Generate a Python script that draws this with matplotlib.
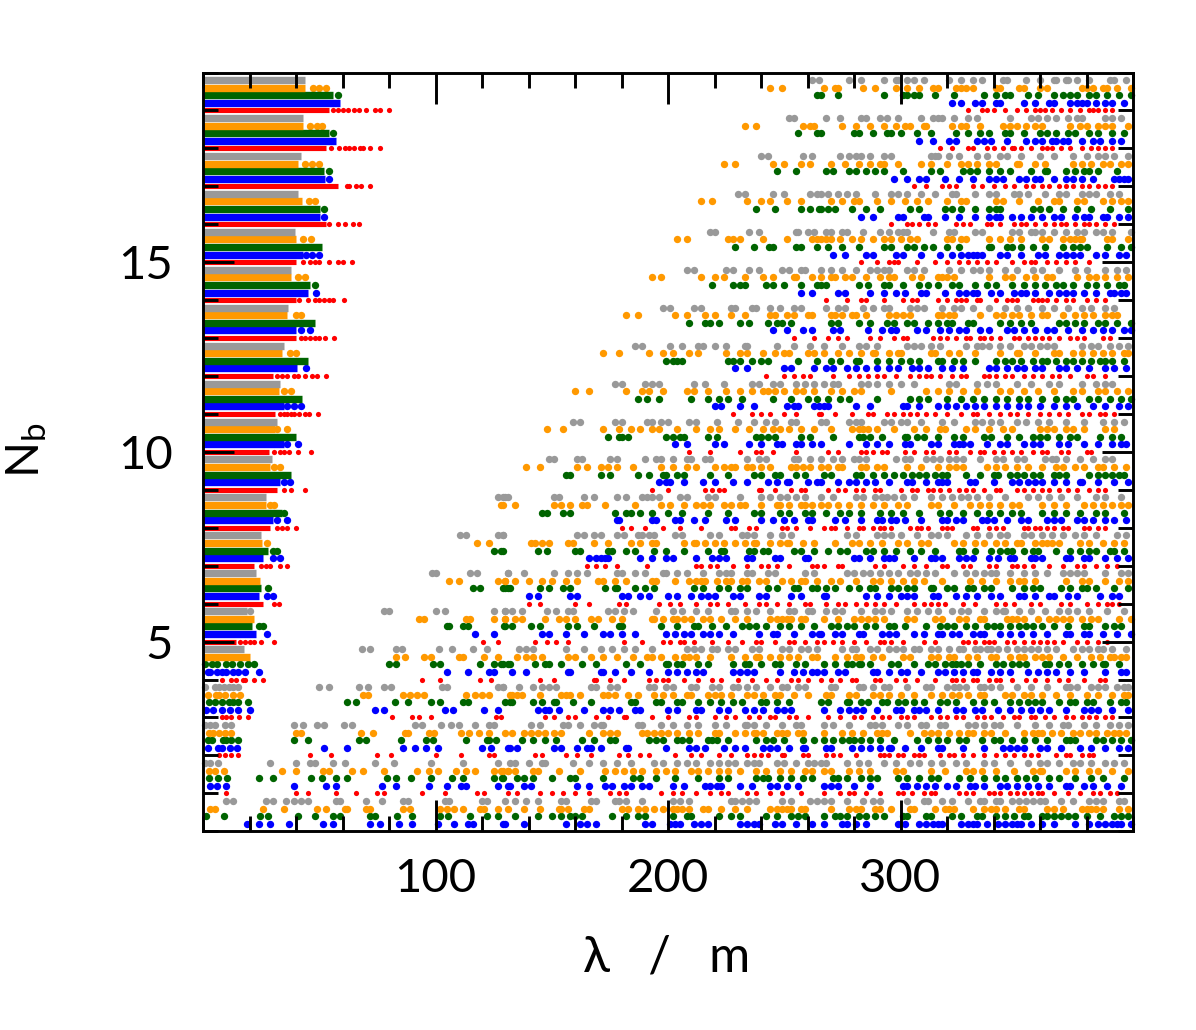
import matplotlib
matplotlib.use("Agg")
import matplotlib.pyplot as plt
from matplotlib.ticker import MultipleLocator

plt.rcParams['font.family'] = ['Lato', 'DejaVu Sans']
plt.rcParams['mathtext.fontset'] = 'custom'
plt.rcParams['mathtext.rm'] = 'Lato'

# Nb level of each row, bottom to top
blue_nb = [0.2, 1.2, 2.2, 3.2, 4.2, 5.2, 6.2, 7.2, 8.2, 9.2, 10.2, 11.2, 12.2, 13.2, 14.2, 15.2, 16.2, 17.2, 18.2, 19.2]
green_nb = [0.4, 1.4, 2.4, 3.4, 4.4, 5.4, 6.4, 7.4, 8.4, 9.4, 10.4, 11.4, 12.4, 13.4, 14.4, 15.4, 16.4, 17.4, 18.4, 19.4]
orange_nb = [0.6, 1.6, 2.6, 3.6, 4.6, 5.6, 6.6, 7.6, 8.6, 9.6, 10.6, 11.6, 12.6, 13.6, 14.6, 15.6, 16.6, 17.6, 18.6, 19.6]
gray_nb = [0.8, 1.8, 2.8, 3.8, 4.8, 5.8, 6.8, 7.8, 8.8, 9.8, 10.8, 11.8, 12.8, 13.8, 14.8, 15.8, 16.8, 17.8, 18.8, 19.8]
red_nb = [1.0, 2.0, 3.0, 4.0, 5.0, 6.0, 7.0, 8.0, 9.0, 10.0, 11.0, 12.0, 13.0, 14.0, 15.0, 16.0, 17.0, 18.0, 19.0]

# short wavelengths are packed so tightly that they merge: contiguous range 0..end per row
blue_ends = [0, 0, 0, 0, 0, 23, 24, 26, 30, 33, 35, 35, 40.5, 40, 45, 43, 50.5, 52.5, 57, 59]
green_ends = [0, 0, 0, 0, 0, 21, 25, 28, 34, 38, 40, 42.5, 45, 48, 46, 51, 50.5, 52, 54, 56]
orange_ends = [0, 0, 0, 0, 20, 22, 24.5, 25.5, 27, 29, 31, 32.5, 34, 36, 38, 40, 42.5, 41, 43, 44]
gray_ends = [0, 0, 0, 0, 17.5, 19, 23, 25, 27, 29.5, 32, 33, 35, 36.5, 38, 39.7, 41, 42, 43, 44]
red_ends = [0, 0, 0, 0, 14, 26, 22, 29, 32, 28.5, 31, 30, 40, 40, 40, 53, 58, 53, 54]

blue_lam = [
    [19,24,29,37,51.5,56,72,76,84.5,90,101,108,114,116,129,130,138,156,162,165,169,190,193,201,203,205,211,214,217,231,234,237,239,246,249,255,262,267,275,277,281,285,299,302,308,311,314,316,318,326,329,331,333,337,342,345,348,350,352,356,361,366,375,381,385,388,391,393,395,399],
    [3,6,10,39,53,57,77,83,97,105,111,113,127,132,131,138,141,161,166,173,176,181,184,189,192,202,207,216,218,221,223,231,236,244,247,251,256,267,270,273,280,287,301,303,307,311,315,320,324,330,332,336,343,346,350,355,359,364,371,373,379,383,389,395],
    [2,6.5,8,11.5,14.5,52,62,86,91,96,101,120,124,131,132,135,151,154,161,165,167,171,182,183,199,209,212,216,224,229,233,241,244,247,252,258,259,268,270,279,283,287,291,295,296,302,309,316,318,327,336,344,347,350,353,360,363,369,377,382,388,394,398],
    [1.5,4.5,8,11.5,15,20,74,78,104,107.5,121,127,144,147,149,153,164,172,175,179,186,188,200,204,212,214,222,226,233,237,241,247,250,253,267,274,278,281,284,290,298,300,306,308,311,316,324,327,332,335,342,347,352,356,360,364,371,379,382,385,391,398],
    [2,3,6,8,10,13,15,18,24,105,114,123,125,133,139,157,158,171,172,177,184,192,200,204,208,212,215,228,231,234,237,248,254,258,262,264,267,273,276,288,290,295,300,303,309,316,319,323,327,331,333,339,343,347,355,359,363,367,373,379,388,395,397],
    [27.5,117,125,146,149,156,164,172,175,180,186,199,203,207,210,215,218,222,228,239,245,247,254,262,265,266,272,275,282,284,292,295,298,306,310,316,318,322,325,331,334,336,343,347,352,357,363,371,373,379,381,387,393,399],
    [27.5,30,140,144,158,161,180,183,188,192,200,204,210,214,217,220,228,231,239,242,253,257,267,268,285,290,295,300,303,306,314,316,324,328,333,339,343,351,353,358,364,366,372,376,386,391,394],
    [30,33,166,169,171,173,174,188,193,199,202,212,219,222,225,234,236,246,248,259,260,280,282,287,293,295,297,306,313,315,318,325,328,331,338,342,347,349,356,358,361,371,373,379,381,388,393,398],
    [32,36,178,179,193,195,203,205,211,216,225,229,240,245,250,254,260,262,272,276,283,290,292,296,298,302,309,318,320,324,327,335,337,340,346,352,355,363,366,369,376,379,383,388,392,397],
    [35,37.5,196,199,201,207,215,220,228,234,243,247,251,252,260,264,266,273,278,281,285,289,295,303,305,311,316,318,320,330,332,340,348,351,355,358,361,366,371,377,378,385,392,398],
    [36,41,203,208,220,224,235,240,247,249,255,257,262,266,278,285,290,295,302,304,313,316,323,325,327,330,337,343,346,353,357,360,368,372,379,385,391,395,397],
    [36,39,42,220,223,231,237,251,254,256,263,265,267,269,281,287,301,303,308,316,320,324,328,332,336,341,346,351,355,360,366,371,376,383,388,394,398],
    [44.5,229,234,250,253,263,268,271,277,281,285,290,295,299,305,308,312,318,322,327,338,341,346,350,353,358,361,368,371,376,381,388,392,397],
    [42,46,245,251,258,262,271,274,286,292,296,298,307,311,317,321,325,328,334,338,346,349,353,358,363,366,372,378,383,387,391,396,399],
    [48.5,257,262,273,276,287,293,298,302,309,311,319,325,328,331,333,339,343,349,352,354,358,364,368,371,374,379,384,390,392,395,397],
    [44.5,47,50,271,276,285,288,298,301,309,317,322,326,329,331,333,335,343,346,352,359,362,368,371,374,377,384,388,394,397],
    [52,283,288,299,301,310,312,319,325,332,338,341,343,348,352,356,361,366,369,375,379,381,387,389,394,398],
    [54,297,303,308,311,319,325,331,338,341,344,351,354,358,360,366,371,374,378,383,392,394,396,398],
    [308,314,321,324,333,336,339,346,354,358,361,365,367,370,372,378,383,386,391,395],
    [322,326,332,335,341,343,353,358,364,366,373,376,378,380,384,388,391,396],
]

green_lam = [
    [1.5,9,24.5,28,41,48,56,59,72,74,83.5,90,102,105.5,115,122,127,134,144,150,154,158,160,163,176,182,187,190,202,208,210,222,227,231,242,247,253,256,259,267,272,274,277,282,285,289,293,301,303,311,313,322,326,333,335,341,345,349,353,355,361,363,366,369,372,375,380,386,392,395,398],
    [2.5,6.5,10.5,24,30,46.5,51,57,62,79,83,89.5,98,107,112,125,128.5,129,135,138,142,150,158,160,172,185,188,195,203,213,222,226,238,241,243,248,253,258,262,271,273,277,283,287,290,299,303,308,313,316,325,330,336,341,345,350,354,358,364,368,375,382,387,396],
    [2,4,8.5,10,12,15,39,45,67,70,85,96,99,113,122,123,126,137,142,147,152,163,168,175,177,192,195,198,204,206,209,217,219,221,226,238,242,245,250,258,263,267,271,275,278,280,283,287,291,297,307,312,316,320,325,328,335,340,343,348,353,358,363,371,373,375,384,387,391,395,399],
    [2.5,5,8,11,13,15,19.5,62,66,82.5,88,98,102,112,114,130,132,133,142,146,151,152,159,167,184,186,195,197,204,206,213,218,223,228,232,240,242,247,252,266,269,277,278,283,286,292,294,299,302,306,310,317,320,324,331,336,340,347,351,355,358,361,368,373,375,380,383,390,395,397],
    [1,4,6,10,12.5,16,19.5,22,80,83,99,102,119,125,128,131,129,132,143,147,149,154,163,169,182,188,199,200,204,206,213,217,228,233,235,240,246,248,255,259,267,272,277,279,282,283,287,296,299,306,312,315,319,322,324,326,329,334,341,344,348,351,354,362,364,368,372,378,383,387,388,394],
    [24,26,105,106,112,114,129.5,130,133,141,145,157,161,168,179,180,197,204,211,213,219,225,232,235,238,242,248,252,257,263,270,273,277,280,285,289,295,297,302,311,317,320,323,328,332,337,340,343,347,351,354,357,361,366,372,379,381,388,392,395],
    [28,116,119,129,131,130,132,145,149,155,158,173,177,178,186,190,194,211,215,222,226,231,234,243,247,254,256,262,264,268,272,278,282,287,289,296,299,303,306,313,314,320,323,329,331,336,339,348,353,357,360,369,373,378,380,384,392,398],
    [30,32,125,128,129,144,148,160,162,174,176,182,186,194,199,207,217,223,224,235,237,241,243,254,257,263,269,274,277,285,288,293,298,304,309,315,325,327,332,339,343,346,348,353,357,359,367,373,377,381,384,390,392,396],
    [35,146,148,155,158,177,182,184,188,193,200,206,217,226,237,240,248,252,259,262,268,274,278,283,291,296,301,308,317,321,327,333,338,343,348,352,361,366,371,377,384,388,396],
    [156,158,171,175,187,192,198,199,204,207,218,226,237,240,246,248,255,259,267,270,281,283,288,293,297,301,305,308,311,315,318,320,328,334,340,342,347,350,353,357,360,366,368,371,381,385,388,391,394,396],
    [174,179,180,183,199,202,205,207,217,221,238,240,243,246,257,261,271,282,284,287,292,302,303,307,310,316,323,327,336,339,346,351,357,360,363,368,373,376,386,391,395],
    [187,191,196,210,217,222,226,232,245,253,260,264,269,274,278,290,304,308,312,320,326,331,336,341,346,351,355,361,367,371,374,381,385,390,395,399],
    [199,202,204,206,226,228,231,236,240,243,256,264,270,274,281,282,290,295,300,304,308,316,318,323,327,332,341,345,348,352,357,361,363,367,371,374,378,382,386,388,391,396],
    [209,216,218,222,231,235,243,247,249,253,270,273,282,287,294,297,303,306,312,316,320,322,329,331,343,347,352,356,368,371,375,379,385,388,393,399],
    [48,219,228,231,233,242,245,250,257,264,266,268,282,286,293,295,301,308,312,316,322,325,332,337,341,348,353,358,362,367,370,374,380,384,389,394,396],
    [229,237,243.5,245,255,257,264,269,275,282,293,296,303,306,310,314,320,325,338,339,346,348,352,357,362,370,374,377,380,389,395,399],
    [52,238,246,257,261,265,266,269,272,279,285,291,304,308,319,322,326,332,338,341,343,357,360,364,370,376,382,390,398],
    [54,247,255,268,271,278,281,285,289,293,301,313,317,327,330,333,338,343,347,356,362,363,371,375,379,381,385,393],
    [56,256,264,266,280,282,288,294,296,300,307,313,324,329,334,338,345,347,353,360,363,367,372,375,381,385,391,396],
    [58,264,266,273,293,301,303,306,308,315,323,336,341,345,347,355,359,366,370,373,376,381,384,389,394,399],
]

orange_lam = [
    [3,5,26,35,49,53,61,62,70,72,86,89,102,105,108,112,119,121,127,131,138,145,153,154,157,164,166,180,183,187,190,194,198,202,204,206,209,215,217,223,229,234,244,247,249,251,253,257,259,270,278,281,283,289,291,296,304,306,315,319,321,323,331,336,339,341,345,351,353,363,366,370,378,380,382,384,387,394,398],
    [2.5,5,9,34,40,51.5,54,64,69,78,92,97,101,109,113,117,125,128,131,129,131,134,142,144,153,162,173,177,181,185,189,195,199,203,210,213,217,222,226,231,238,242,248,253,259,262,267,270,278,282,287,298,301,313,319,328,331,335,341,349,357,360,361,371,375,381,385,391,398],
    [2.5,4.5,7,9.5,12,40,42,68,73,87,88,97,99.5,111,114.5,118.5,123,130,133,138,141,144,147,151,154,166,172,175,178,189,191,194,197,200,204,209,213,220,222,229,233,237,238,241,247,249,251,256,258,267,275,279,284,290,292,294,304,310,313,316,321,325,329,331,336,339,345,353,357,359,361,365,369,374,377,381,384,389,392,394,397],
    [2,5.5,7,9.5,13,16,69,71,86,89,92,95,113,117,120,123,132,133,135,137,145,154,156,158,162,172,174,177,183,187,194,198,202,208,210,217,220,223,227,234,237,241,246,248,254,260,268,270,278,281,288,291,295,300,306,313,318,322,325,329,334,336,345,348,353,356,361,367,373,380,385,391,396,398],
    [83,87,95,98,110,112,121,127,135,139,142,146,157,160,167,172,178,185,191,193,197,203,207,209,212,218,227,233,238,239,244,248,252,256,262,264,272,277,281,283,288,292,301,304,313,316,321,323,329,333,339,341,347,351,353,358,361,364,370,376,382,386,390,392,395,397],
    [93,95,113,115,125,130,130,134,137,147,153,156,160,167,170,176,180,193,194,198,202,204,207,210,215,218,223,229,234,244,247,249,251,253,257,259,267,273,280,283,286,289,293,303,306,315,318,325,328,334,336,346,348,350,353,359,364,367,370,373,378,382,385,394,399],
    [106,110,127,130,130,134,140,146,150,156,161,170,172,177,182,193,195,203,209,212,214,216,221,225,227,232,234,239,242,249,253,257,259,264,270,274,281,288,291,296,301,306,310,318,330,335,341,347,351,353,358,371,378,381,388,394,398],
    [27.5,118,123,141,143,146,149,157,159,168,174,184,188,193,195,207,211,212,216,220,224,229,233,237,238,244,248,251,252,258,263,272,279,282,287,292,299,303,309,312,323,327,332,336,341,345,350,352,358,361,363,365,368,377,381,387,392,396],
    [29,30.5,128,129,134,151,154,158,163,165,173,186,197,201,207,212,215,218,224,227,231,233,240,247,248,252,257,259,262,266,269,273,278,283,288,293,299,303,313,316,323,330,334,338,343,348,351,361,366,371,379,383,387,391,395,398],
    [30.5,33,139,145,161,165,171,174,178,185,197,202,208,212,220,224,227,229,234,236,240,244,253,255,258,261,266,269,273,275,283,285,290,293,303,309,316,321,324,327,337,341,345,350,355,361,367,370,375,379,385,387,392,397],
    [32,36,148,155,172,179,184,188,193,196,204,212,218,222,229,235,241,245,248,252,257,263,270,279,282,284,286,290,297,306,311,317,319,328,332,338,344,348,360,363,366,371,374,379,388,392],
    [35,38,160,166,182,189,192,198,208,211,217,225,231,236,241,243,246,250,255,258,263,270,275,280,283,296,311,316,321,327,333,343,347,353,359,366,374,378,385,388,393,398],
    [37.5,40,172,179,192,198,202,209,213,225,231,234,241,246,250,252,260,263,267,273,278,283,288,289,295,299,300,313,315,321,325,332,343,350,351,358,366,368,374,378,383,387,391,396,398],
    [40,42,182,187,203,208,216,220,227,233,244,246,251,254,260,262,270,272,275,279,281,285,295,298,301,304,316,318,321,323,334,341,344,348,351,356,361,363,370,375,379,383,388,391,393],
    [41,44,193,197,214,220,224,233,241,245,254,255,262,266,270,272,276,279,285,291,295,297,305,309,316,318,320,323,338,345,348,354,358,363,365,376,381,384,388,393,398],
    [43,46.5,204,208,226,228,231,241,251,262,264,266,268,270,274,279,283,288,293,296,300,304,307,320,322,326,328,338,343,347,352,361,364,370,373,375,377,378,389,391,398],
    [45.5,48,214,219,234,240,244,251,257,270,275,280,282,290,296,302,307,312,320,326,328,341,344,351,359,366,368,376,379,387,391,395,398],
    [44,47,50,224,229,245,250,257,261,270,276,282,287,291,293,299,309,313,320,326,329,333,338,341,350,351,358,362,374,378,382,387,390,395,398],
    [46,49,51,233,238,258,261,263,275,281,287,293,298,302,304,310,311,322,326,328,334,344,347,350,354,358,361,373,377,380,385,388,391,398],
    [47.5,50,53,244,249,267,272,273,284,289,298,303,308,314,316,324,326,328,331,341,343,351,353,360,363,378,380,383,387,389,393,399],
]

gray_lam = [
    [10,13,27,30,35.5,39,42,45,57,59,70,77,86,88,104,106,120,122,130,134,139,144,154,156,167,169,177,179,182,189,202,205,209,227,229,232,235,238,249,253,261,264,267,270,277,284,288,291,303,310,312,318,322,329,334,336,341,343,348,351,354,357,360,362,369,374,381,384,387,394,396],
    [1,3,6.5,29,40,46,48,56,61,74,82,98,112,127,132,134,140,146,147,159,166,172,178,184,194,198,204,208,212,218,222,226,229,234,237,239,247,250,255,260,263,266,268,277,282,286,293,298,304,308,313,318,324,328,336,340,347,355,360,363,368,374,377,382,388,392,396],
    [1,3,5,9.5,12,39,43,49,52,60.5,64,91,94,102.5,106.5,110,117,123,125,141,145,155,157,162,168,171,172,187,189,197,202,208,213,220,225,233,234,237,242,249,255,257,267,271,278,287,289,292,299,303,309,311,317,319,329,332,336,340,343,350,358,364,370,372,379,384,390,394,398],
    [1,5,7,9,11,13,15,50,54,67,71,78,81,103,105,127,129,129,136,142,146,149,152,167,169,175,178,192,194,199,202,210,212,219,222,228,230,234,238,244,249,251,256,259,270,272,282,284,288,293,295,303,311,313,320,323,325,328,334,336,339,343,350,356,363,371,373,376,382,385,388,393,396,398],
    [68.5,72,83,85.5,101.5,107,116,122,136,139,142,156,164,171,176,181,186,193,208,211,214,219,221,226,229,236,239,249,252,257,260,264,275,279,281,287,290,295,298,301,306,308,313,316,321,325,327,332,334,337,339,342,346,350,353,356,359,363,367,374,378,381,385,387,391,397],
    [20,78,80,100,104,125,130,130,133,137,148,152,157,159,174,177,181,185,195,202,206,212,217,227,229,234,238,244,252,254,260,262,268,272,275,283,289,292,296,303,307,312,316,322,326,329,336,341,344,345,351,356,362,368,372,376,381,389,396],
    [98.5,100,115,118,131,131,138,151,157,161,165,178,180,186,190,198,199,204,208,215,222,225,227,234,236,243,246,259,263,277,280,284,287,291,295,299,304,307,311,315,323,328,332,336,339,341,347,353,358,363,370,373,376,379,388,395,398],
    [110.5,113,127,129,129,161,164,168,171,178,181,187,189,192,194,203,206,218,222,232,234,237,244,249,253,277,281,290,293,296,300,307,313,316,320,328,333,338,343,346,353,356,361,365,370,375,379,384,393,397],
    [127,130,129,131,151,153,164,168,178,182,189,191,193,196,205,208,217,220,231,240,244,248,251,255,259,266,271,281,284,289,292,294,297,301,306,313,318,322,326,329,333,338,345,355,359,364,369,376,384,388,395],
    [149,151,161,163,175,178,190,195,197,202,208,210,216,218,234,239,242,254,256,261,266,271,275,280,282,285,298,302,304,311,314,317,321,324,327,334,341,344,350,353,362,365,367,371,377,383,388,391],
    [159,162,177,180,191,193,197,200,209,212,221,230,237,242,246,253,255,266,268,278,281,283,293,296,300,303,309,318,323,332,335,339,343,350,354,359,364,371,379,387,392,396],
    [177,180,190,193,196,211,216,224,236,239,245,248,255,259,263,267,271,273,283,286,290,295,300,306,321,324,333,337,341,350,356,364,368,378,384,388,391],
    [186,189,201,206,213,215,220,225,233,234,247,254,261,267,275,282,285,290,303,306,309,313,317,328,333,335,338,343,347,353,356,360,363,366,378,382,385,390,394,398],
    [198,201,211,214,227,229,236,238,244,248,254,257,268,273,276,284,288,293,295,304,307,310,318,323,326,331,338,345,350,355,361,366,372,378,382,388,392],
    [208,211,225,228,235,239,249,252,257,259,266,270,275,281,287,290,293,295,303,306,310,321,326,331,334,338,345,350,357,361,368,375,380,388,393,397],
    [218,220,235,239,255,256,260,263,268,270,275,277,284,291,295,299,301,303,314,321,323,332,335,348,351,356,358,361,366,371,376,379,384,387,391,399],
    [230,233,245,250,261,264,266,269,273,277,281,289,296,299,303,309,315,322,324,332,338,341,349,351,355,362,368,371,378,381,384,390,394],
    [240,243,258,262,274,278,281,283,287,293,296,313,315,316,321,325,333,337,343,346,352,360,366,374,380,385,388,392,398],
    [252,254,268,274,283,285,291,294,299,309,314,316,318,323,329,333,347,356,359,363,367,372,376,378,388,391,395],
    [262,265,278,283,293,298,299,303,306,310,321,326,331,335,344,346,354,360,366,367,371,372,376,381,390,392,397],
]

red_lam = [
    [10,40,45,57,66,75,78,94,104,118,121,131,135,145,150,155,160,166,175,179,182,197,202,206,212,218,223,226,234,238,244,249,257,267,274,278,280,285,291,299,301,305,310,313,315,325,328,331,338,340,343,347,350,353,356,359,361,366,372,377,383,386,390,393],
    [7,9.5,12,15,46,55,75,81,100,111,123,125,143,146,156,161,167,179,183,188,192,203,210,214,222,227,234,237,240,243,249,250,258,260,268,271,274,281,291,293,295,299,301,306,308,310,317,321,323,327,331,336,341,345,349,353,356,359,367,371,373,378,381,383],
    [8,10,12,15.5,19.5,81.5,90,93,98,126,128,147,151,157,160,169,174,181,182,193,200,209,212,220,225,229,235,239,244,246,252,255,260,269,274,280,283,288,292,295,300,303,306,313,317,320,324,327,333,336,339,344,349,351,356,358,362,366,371,374,378,381,384,388,391],
    [8,12,14,17,18,22,26,94,102,119,124,145,151,168,169,175,181,192,195,198,200,207,213,219,223,230,236,242,247,253,256,260,266,270,274,279,281,289,291,298,302,307,315,322,324,327,331,333,338,341,343,348,354,358,363,368,372,379,386,388],
    [16,18,20,22,25,30.5,120.5,127,143,148,152,157,181,189,198,201,205,207,211,219,226,232,238,240,246,252,254,259,264,267,271,275,280,285,291,293,296,301,310,315,327,329,332,336,338,340,346,349,353,357,360,363,366,370,376,380,385,389],
    [30.5,32.5,140,145,160,166,179,182,196,201,205,212,218,221,226,233,239,242,247,252,259,261,268,273,276,281,285,289,293,298,306,310,313,316,319,327,332,341,345,349,356,360,369,373,380,385,389,391,394],
    [25,27,29,33,36,165,169,173,178,191,212,214,218,221,228,234,240,243,247,252,262,264,267,273,275,289,293,301,306,311,318,320,327,330,338,341,348,350,353,357,364,370,376,379,384,389,393],
    [32,34,36,40,180,184,190,198,205,214,227,229,235,238,249,251,255,261,267,270,272,277,282,284,288,291,293,296,304,307,309,312,318,320,322,331,333,338,341,344,353,355,358,360,363,366,370,372,379,381,385,388],
    [35,38,44,193,200,216,219,222,224,239,240,246,253,257,259,269,273,276,281,284,289,291,300,305,307,312,314,317,321,325,328,331,336,341,343,350,353,357,361,364,368,372,376,381,385,388],
    [30.5,33,35,37,41,46.5,209,218,231,238,240,245,255,269,273,283,285,288,292,294,302,306,311,314,321,324,330,334,336,340,344,348,352,357,361,363,369,372,380,382],
    [33,35,36,38,39,41.5,44,45.5,49.5,228,236,240,244,250,255,265,266,272,279,286,288,294,297,301,304,307,311,315,320,326,331,333,338,343,347,350,355,360,364,368,372,378,381,386,388,392],
    [32,34,36,39,41,44,47,49,53,242,250,254,258,261,271,278,282,286,290,293,298,304,308,311,313,317,322,326,328,336,338,341,345,348,353,357,361,365,368,373,380,383,388],
    [42,44,46,48,50,52.5,56.5,254,263,269,273,277,287,291,297,301,303,314,317,320,324,328,330,334,336,339,343,349,351,355,358,361,364,368,373,376,379,387,390],
    [41.5,45,48,50,52,54,56,60.5,268,277,283,285,293,301,305,307,316,320,324,326,328,333,334,341,346,348,350,357,359,361,363,367,371,374,380,384,388],
    [43,46,48,50,54,58,60,64,283,290,295,297,299,307,315,320,325,329,333,337,341,348,353,356,358,363,367,371,375,381],
    [54,58,61,64.6,67,296,303,305,308,312,315,324,327,330,337,339,343,349,352,354,358,362,366,369,371,375,379,381,384,388,392],
    [62,63,66,68,72,306,311,318,321,324,331,335,340,345,349,354,357,361,364,368,371,374,378,381,385,388,391],
    [55,58.5,61,63,65,67.5,69,72,76,317,322,329,331,337,340,344,348,349,352,356,361,363,365,369,373,378,382,385,388,391],
    [56,58,60,62.5,65,67,70,74,76,80,329,335,337,340,345,350,354,358,360,362,365,369,373,377,381,383,385,388,391],
]

fig = plt.figure(figsize=(11.96, 10.30), dpi=100)
ax = fig.add_axes([203 / 1196, 1 - 831.3 / 1030, 930 / 1196, 758.8 / 1030])

series = [
    (blue_nb, blue_ends, blue_lam, '#0000ff', 28, 5.3),
    (green_nb, green_ends, green_lam, '#006400', 28, 5.3),
    (orange_nb, orange_ends, orange_lam, '#ff9900', 28, 5.3),
    (gray_nb, gray_ends, gray_lam, '#999999', 28, 5.3),
    (red_nb, red_ends, red_lam, '#ff0000', 14, 3.7),
]
for levels, ends, rows, colour, size, width in series:
    for nb, end, lam in zip(levels, ends, rows):
        if end > 0:
            ax.hlines(nb, 0, end, colors=colour, linewidth=width, capstyle='butt')
        ax.scatter(lam, [nb] * len(lam), s=size, c=colour, linewidths=0, clip_on=False)

ax.set_xlim(0, 400)
ax.set_ylim(0, 20)
ax.set_xticks([100, 200, 300])
ax.set_yticks([5, 10, 15])
ax.xaxis.set_minor_locator(MultipleLocator(20))
ax.yaxis.set_minor_locator(MultipleLocator(1))
ax.set_axisbelow(False)
ax.tick_params(which='major', direction='in', length=22, width=2.1, top=True, right=True, labelsize=34)
ax.tick_params(axis='x', which='major', pad=19)
ax.tick_params(axis='y', which='major', pad=22)
ax.tick_params(which='minor', direction='in', length=11, width=2.1, top=True, right=True)
for spine in ax.spines.values():
    spine.set_linewidth(2.1)

fig.text(667 / 1196, 1 - 958 / 1030, 'λ   /   m', fontsize=36, ha='center', va='center')
fig.text(27 / 1196, 1 - 450 / 1030, r'N$_{\mathrm{b}}$', fontsize=34, rotation=90, ha='center', va='center')

fig.savefig('out.png', dpi=100)
